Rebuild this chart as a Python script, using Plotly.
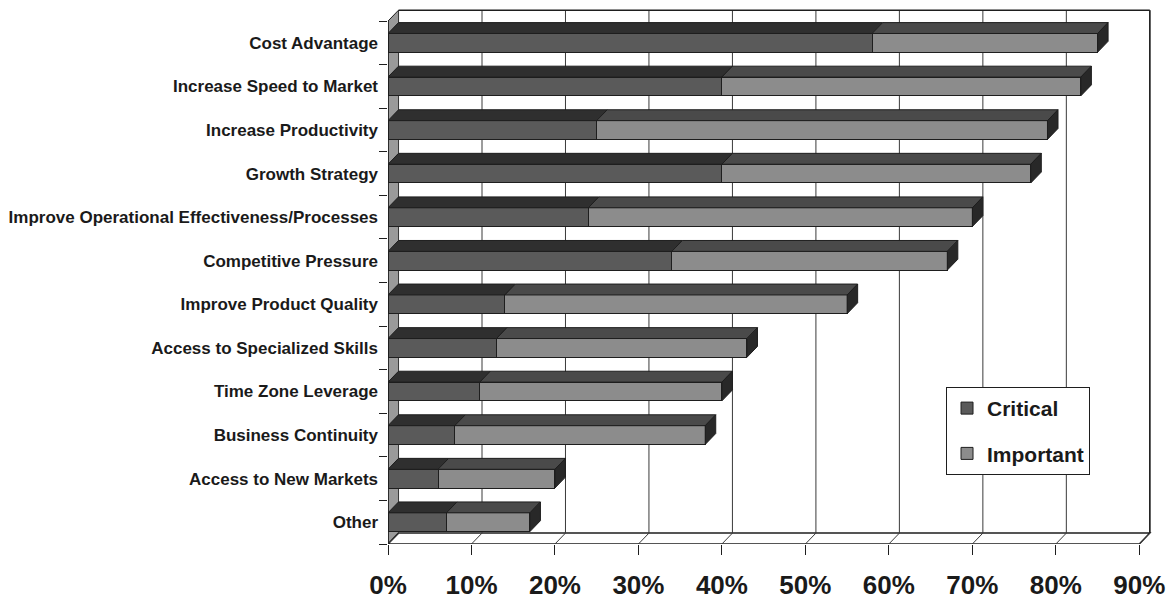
import plotly.graph_objects as go

# ---------------- data ----------------
categories = [
    "Cost Advantage",
    "Increase Speed to Market",
    "Increase Productivity",
    "Growth Strategy",
    "Improve Operational Effectiveness/Processes",
    "Competitive Pressure",
    "Improve Product Quality",
    "Access to Specialized Skills",
    "Time Zone Leverage",
    "Business Continuity",
    "Access to New Markets",
    "Other",
]
critical = [58, 40, 25, 40, 24, 34, 14, 13, 11, 8, 6, 7]
important = [27, 43, 54, 37, 46, 33, 41, 30, 29, 30, 14, 10]
x_ticks = [0, 10, 20, 30, 40, 50, 60, 70, 80, 90]
x_tick_labels = ["0%", "10%", "20%", "30%", "40%", "50%", "60%", "70%", "80%", "90%"]
series_names = ["Critical", "Important"]

# ---------------- style ----------------
FONT = "Liberation Sans, Arial, sans-serif"
FRONT = {"Critical": "#5a5a5a", "Important": "#8c8c8c"}
TOP = {"Critical": "#2f2f2f", "Important": "#4a4a4a"}
SIDE = "#282828"
EDGE = "#1e1e1e"
DX = 1.26      # depth offset along value axis (in % units)
DY = 0.25      # depth offset along category axis (in category units)
BAR_W = 0.43
XMAX = 90

n = len(categories)
pos = list(range(n))

fig = go.Figure()

# front faces (stacked)
for name, vals in zip(series_names, [critical, important]):
    fig.add_trace(go.Bar(
        y=pos, x=vals, orientation="h", name=name, width=BAR_W,
        marker=dict(color=FRONT[name], line=dict(color=EDGE, width=1)),
        legendgroup=name,
    ))

# top faces of each segment
for name, starts, vals in [("Critical", [0] * n, critical),
                           ("Important", critical, important)]:
    xs, ys = [], []
    for i in range(n):
        x0 = starts[i]
        x1 = starts[i] + vals[i]
        yt = pos[i] - BAR_W / 2
        xs += [x0, x1, x1 + DX, x0 + DX, x0, None]
        ys += [yt, yt, yt - DY, yt - DY, yt, None]
    fig.add_trace(go.Scatter(
        x=xs, y=ys, mode="lines", fill="toself", fillcolor=TOP[name],
        line=dict(color=EDGE, width=1), hoverinfo="skip", showlegend=False,
    ))

# right side faces of each full bar
xs, ys = [], []
for i in range(n):
    xt = critical[i] + important[i]
    yt = pos[i] - BAR_W / 2
    yb = pos[i] + BAR_W / 2
    xs += [xt, xt + DX, xt + DX, xt, xt, None]
    ys += [yt, yt - DY, yb - DY, yb, yt, None]
fig.add_trace(go.Scatter(
    x=xs, y=ys, mode="lines", fill="toself", fillcolor=SIDE,
    line=dict(color=EDGE, width=1), hoverinfo="skip", showlegend=False,
))

# ---------------- 3D box: walls, floor, gridlines ----------------
y_top = -0.5
y_bot = n - 0.5
shapes = []
# left side wall
shapes.append(dict(type="path", xref="x", yref="y", layer="below",
                   path=f"M 0 {y_top} L {DX} {y_top - DY} L {DX} {y_bot - DY} L 0 {y_bot} Z",
                   fillcolor="#9a9a9a", line=dict(color=EDGE, width=1)))
# floor
shapes.append(dict(type="path", xref="x", yref="y", layer="below",
                   path=f"M 0 {y_bot} L {DX} {y_bot - DY} L {XMAX + DX} {y_bot - DY} L {XMAX} {y_bot} Z",
                   fillcolor="white", line=dict(color=EDGE, width=1.5)))
# back wall gridlines and floor slants
for v in x_ticks:
    shapes.append(dict(type="line", xref="x", yref="y", layer="below",
                       x0=v + DX, x1=v + DX, y0=y_top - DY, y1=y_bot - DY,
                       line=dict(color="#3a3a3a", width=1)))
    shapes.append(dict(type="line", xref="x", yref="y", layer="below",
                       x0=v + DX, x1=v, y0=y_bot - DY, y1=y_bot,
                       line=dict(color="#3a3a3a", width=1)))
# back wall top and right borders
shapes.append(dict(type="line", xref="x", yref="y", layer="below",
                   x0=DX, x1=XMAX + DX, y0=y_top - DY, y1=y_top - DY,
                   line=dict(color=EDGE, width=1.5)))
shapes.append(dict(type="line", xref="x", yref="y", layer="below",
                   x0=XMAX + DX, x1=XMAX + DX, y0=y_top - DY, y1=y_bot - DY,
                   line=dict(color=EDGE, width=1.5)))
# front left axis line
shapes.append(dict(type="line", xref="x", yref="y", layer="above",
                   x0=0, x1=0, y0=y_top, y1=y_bot,
                   line=dict(color=EDGE, width=1.5)))

fig.update_layout(
    width=1174, height=606,
    margin=dict(l=388, r=18, t=8, b=62, autoexpand=False),
    paper_bgcolor="white", plot_bgcolor="white",
    barmode="stack",
    shapes=shapes,
    showlegend=True,
    legend=dict(
        x=0.7266, y=0.293, xanchor="left", yanchor="top",
        bgcolor="white", bordercolor=EDGE, borderwidth=1,
        font=dict(family=FONT, size=21, color="#1a1a1a", weight="bold"),
        traceorder="grouped", tracegroupgap=15,
    ),
    xaxis=dict(
        range=[0, 92], showgrid=False, zeroline=False, showline=False,
        automargin=False,
        tickmode="array", tickvals=x_ticks, ticktext=x_tick_labels,
        ticks="outside", ticklen=10, tickcolor=EDGE, tickwidth=1,
        ticklabelstandoff=8,
        tickfont=dict(family=FONT, size=26, color="#1a1a1a", weight="bold"),
    ),
    yaxis=dict(
        range=[y_bot, y_top - 0.3], showgrid=False, zeroline=False, showline=False,
        automargin=False,
        tickmode="array", tickvals=pos, ticktext=categories, ticks="",
        ticklabelstandoff=9,
        tickfont=dict(family=FONT, size=17, color="#1a1a1a", weight="bold"),
        minor=dict(tickmode="array", tickvals=[p - 0.5 for p in pos] + [y_bot],
                   ticks="outside", ticklen=8, tickcolor=EDGE, showgrid=False),
    ),
)

fig.write_html("out.html")
